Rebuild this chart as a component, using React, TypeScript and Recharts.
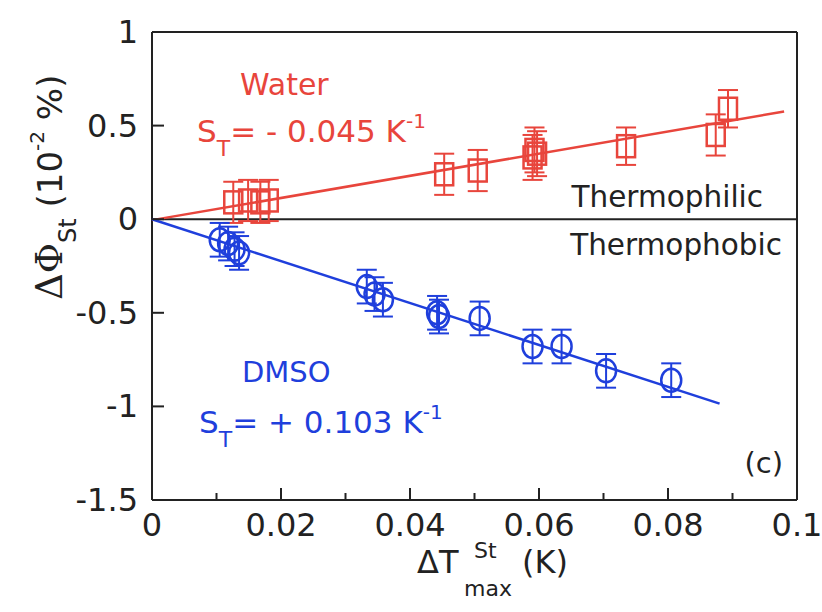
import React from "react";
import {
  ScatterChart,
  Scatter,
  XAxis,
  YAxis,
  ErrorBar,
  ReferenceLine,
} from "recharts";

const RED = "#e8453c";
const BLUE = "#1f3fdc";
const INK = "#222";
const FONT = "DejaVu Sans, sans-serif";

// water (squares)
const waterX = [0.0126, 0.0149, 0.0168, 0.0181, 0.0453, 0.0505, 0.059, 0.0593, 0.0597, 0.0735, 0.0874, 0.0893];
const waterY = [0.09, 0.1, 0.09, 0.1, 0.24, 0.26, 0.33, 0.37, 0.35, 0.39, 0.45, 0.59];
const waterErr = [0.11, 0.11, 0.11, 0.11, 0.11, 0.11, 0.12, 0.12, 0.12, 0.1, 0.11, 0.1];

// DMSO (circles)
const dmsoX = [0.0105, 0.0118, 0.0128, 0.0135, 0.0333, 0.0345, 0.0358, 0.0442, 0.0445, 0.0508, 0.059, 0.0635, 0.0704, 0.0805];
const dmsoY = [-0.11, -0.13, -0.16, -0.18, -0.36, -0.4, -0.43, -0.5, -0.52, -0.53, -0.68, -0.68, -0.81, -0.86];
const dmsoErr = [0.09, 0.09, 0.09, 0.09, 0.09, 0.09, 0.09, 0.09, 0.09, 0.09, 0.09, 0.09, 0.09, 0.09];

// linear fits
const waterFitX = [0, 0.098];
const waterFitY = [-0.005, 0.575];
const dmsoFitX = [0, 0.088];
const dmsoFitY = [0, -0.985];

const xTicks = [0, 0.01, 0.02, 0.03, 0.04, 0.05, 0.06, 0.07, 0.08, 0.09, 0.1];
const yTicks = [-1.5, -1, -0.5, 0, 0.5, 1];

const zip = (xs: number[], ys: number[], es?: number[]) =>
  xs.map((x, i) => ({ x, y: ys[i], err: es ? es[i] : 0 }));

const waterData = zip(waterX, waterY, waterErr);
const dmsoData = zip(dmsoX, dmsoY, dmsoErr);
const waterFit = zip(waterFitX, waterFitY);
const dmsoFit = zip(dmsoFitX, dmsoFitY);

const isMajorX = (v: number) => Math.round(v * 100) % 2 === 0;
const fmt = (v: number) => String(Number(v.toFixed(2)));

/* eslint-disable @typescript-eslint/no-explicit-any */
const BottomTick = (p: any) => {
  const major = isMajorX(p.payload.value);
  return (
    <g>
      <line x1={p.x} y1={p.y} x2={p.x} y2={p.y - (major ? 12 : 7)} stroke={INK} strokeWidth={2} />
      {major && (
        <text x={p.x} y={p.y + 36} textAnchor="middle" fontSize={32} fontFamily={FONT} fill={INK}>
          {fmt(p.payload.value)}
        </text>
      )}
    </g>
  );
};

const TopTick = (p: any) => {
  const major = isMajorX(p.payload.value);
  return <line x1={p.x} y1={p.y} x2={p.x} y2={p.y + (major ? 12 : 7)} stroke={INK} strokeWidth={2} />;
};

const LeftTick = (p: any) => (
  <g>
    <line x1={p.x} y1={p.y} x2={p.x + 12} y2={p.y} stroke={INK} strokeWidth={2} />
    <text x={p.x - 14} y={p.y + 11} textAnchor="end" fontSize={32} fontFamily={FONT} fill={INK}>
      {fmt(p.payload.value)}
    </text>
  </g>
);

const RightTick = (p: any) => (
  <line x1={p.x} y1={p.y} x2={p.x - 12} y2={p.y} stroke={INK} strokeWidth={2} />
);

const Square = (p: any) => (
  <rect x={p.cx - 9} y={p.cy - 11} width={18} height={22} fill="none" stroke={RED} strokeWidth={2.5} />
);

const Circle = (p: any) => (
  <ellipse cx={p.cx} cy={p.cy} rx={10} ry={11.5} fill="none" stroke={BLUE} strokeWidth={2.5} />
);

const NoDot = () => <g />;

export default function App() {
  return (
    <div style={{ position: "relative", width: 822, height: 612, background: "#fff" }}>
      <style>{"body{margin:0}"}</style>
      <ScatterChart width={822} height={612} margin={{ top: 27, right: 20, bottom: 82, left: 92 }}>
        <XAxis
          dataKey="x"
          type="number"
          domain={[0, 0.1]}
          ticks={xTicks}
          interval={0}
          height={30}
          tickSize={0}
          tickMargin={0}
          tickLine={false}
          axisLine={{ stroke: INK, strokeWidth: 2 }}
          tick={<BottomTick />}
        />
        <XAxis
          xAxisId="top"
          orientation="top"
          dataKey="x"
          type="number"
          domain={[0, 0.1]}
          ticks={xTicks}
          interval={0}
          height={5}
          tickSize={0}
          tickMargin={0}
          tickLine={false}
          axisLine={{ stroke: INK, strokeWidth: 2 }}
          tick={<TopTick />}
        />
        <YAxis
          dataKey="y"
          type="number"
          domain={[-1.5, 1]}
          ticks={yTicks}
          interval={0}
          width={60}
          tickSize={0}
          tickMargin={0}
          tickLine={false}
          axisLine={{ stroke: INK, strokeWidth: 2 }}
          tick={<LeftTick />}
        />
        <YAxis
          yAxisId="right"
          orientation="right"
          dataKey="y"
          type="number"
          domain={[-1.5, 1]}
          ticks={yTicks}
          interval={0}
          width={5}
          tickSize={0}
          tickMargin={0}
          tickLine={false}
          axisLine={{ stroke: INK, strokeWidth: 2 }}
          tick={<RightTick />}
        />
        <ReferenceLine y={0} stroke={INK} strokeWidth={2} />
        <Scatter data={waterFit} line={{ stroke: RED, strokeWidth: 2.5 }} shape={NoDot} isAnimationActive={false} />
        <Scatter data={dmsoFit} line={{ stroke: BLUE, strokeWidth: 2.5 }} shape={NoDot} isAnimationActive={false} />
        <Scatter data={waterData} shape={Square} isAnimationActive={false}>
          <ErrorBar dataKey="err" direction="y" width={10} stroke={RED} strokeWidth={2} isAnimationActive={false} />
        </Scatter>
        <Scatter data={dmsoData} shape={Circle} isAnimationActive={false}>
          <ErrorBar dataKey="err" direction="y" width={10} stroke={BLUE} strokeWidth={2} isAnimationActive={false} />
        </Scatter>
      </ScatterChart>
      <svg
        width={822}
        height={612}
        style={{ position: "absolute", left: 0, top: 0, pointerEvents: "none" }}
        fontFamily={FONT}
      >
        <text x={240} y={95} fontSize={30} fill={RED}>Water</text>
        <text x={197} y={142} fontSize={31} fill={RED}>
          S<tspan dy={14} fontSize={22}>T</tspan>
          <tspan dy={-14}>= - 0.045 K</tspan>
          <tspan dy={-14} fontSize={20}>-1</tspan>
        </text>
        <text x={763} y={207} fontSize={29.5} fill={INK} textAnchor="end">Thermophilic</text>
        <text x={782} y={255} fontSize={29.5} fill={INK} textAnchor="end">Thermophobic</text>
        <text x={242} y={382} fontSize={29} fill={BLUE}>DMSO</text>
        <text x={199} y={433} fontSize={31} fill={BLUE}>
          S<tspan dy={14} fontSize={22}>T</tspan>
          <tspan dy={-14}>= + 0.103 K</tspan>
          <tspan dy={-14} fontSize={20}>-1</tspan>
        </text>
        <text x={783} y={473} fontSize={29} fill={INK} textAnchor="end">(c)</text>

        <text x={417} y={573} fontSize={32} fill={INK}>ΔT</text>
        <text x={474} y={558} fontSize={22} fill={INK}>St</text>
        <text x={464} y={596} fontSize={22} fill={INK}>max</text>
        <text x={522} y={573} fontSize={32} fill={INK}>(K)</text>

        <text transform="rotate(-90 62 300)" x={62} y={300} fontSize={34} fill={INK}>
          <tspan fontFamily="DejaVu Serif, serif" fontSize={37}>ΔΦ</tspan>
          <tspan dy={14} fontSize={24}>St</tspan>
          <tspan dy={-14}> (10</tspan>
          <tspan dy={-18} fontSize={20}>-2</tspan>
          <tspan dy={18}> %)</tspan>
        </text>
      </svg>
    </div>
  );
}
